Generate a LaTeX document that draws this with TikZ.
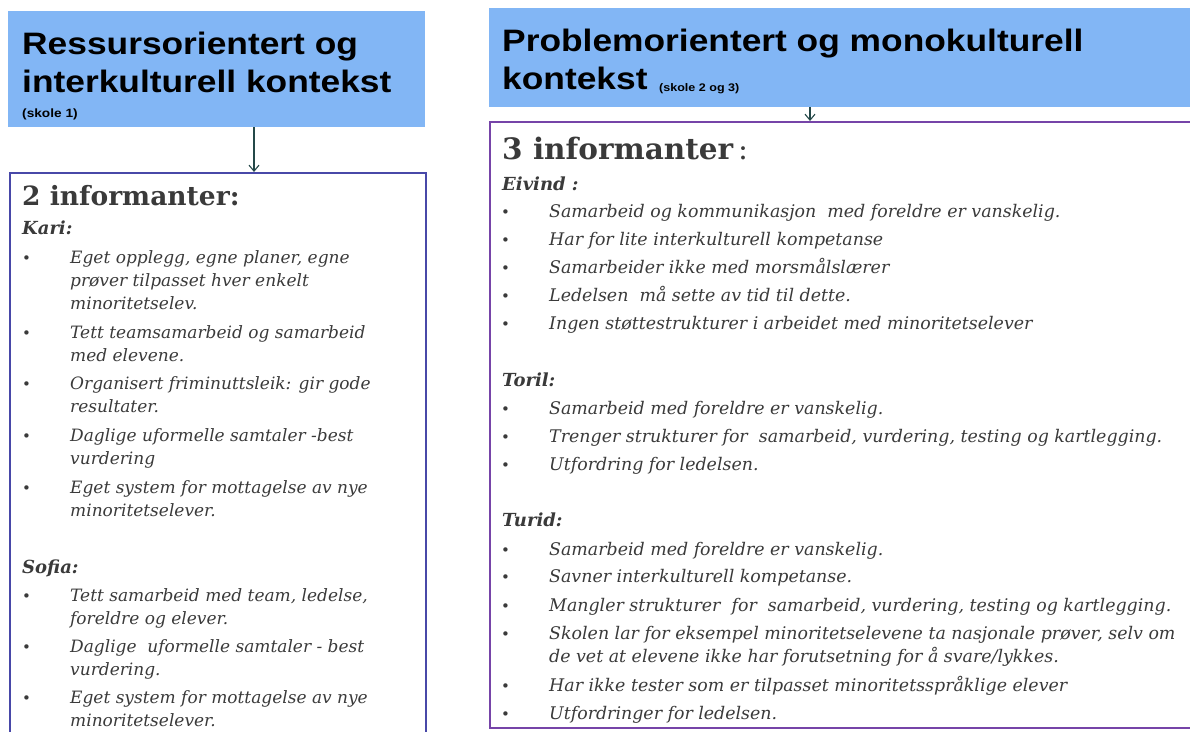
\documentclass[tikz,border=0pt]{standalone}
\usepackage{fontspec}
\setmainfont{DejaVu Serif}
\newfontfamily\headfont{Liberation Sans}[FakeStretch=1.14]
\usetikzlibrary{arrows.meta}
\definecolor{headblue}{RGB}{130, 182, 245}
\definecolor{leftframe}{RGB}{72, 72, 168}
\definecolor{rightframe}{RGB}{118, 68, 168}
\definecolor{arrowteal}{RGB}{36, 72, 72}
\definecolor{bodygray}{RGB}{58, 58, 58}
\tikzstyle{head_box}=[rectangle, fill=headblue, draw=none, anchor=north west, inner sep=0pt]
\tikzstyle{head_text}=[anchor=base west, inner sep=0pt, text=black,
    font=\headfont\bfseries\fontsize{31}{31}\selectfont]
\tikzstyle{school_text}=[anchor=base west, inner sep=0pt, text=black,
    font=\headfont\bfseries\fontsize{12}{12}\selectfont]
\tikzstyle{info_box}=[rectangle, anchor=north west, inner sep=0pt, line width=2pt, fill=white]
\tikzstyle{count_text}=[anchor=base west, inner sep=0pt, text=bodygray, font=\bfseries]
\tikzstyle{name_text}=[anchor=base west, inner sep=0pt, text=bodygray,
    font=\bfseries\itshape\fontsize{18}{18}\selectfont]
\tikzstyle{item_line}=[anchor=base west, inner sep=0pt, text=bodygray,
    font=\itshape\fontsize{17}{17}\selectfont]
\tikzstyle{item_dot}=[anchor=base west, inner sep=0pt, text=bodygray,
    font=\fontsize{15}{15}\selectfont]
\tikzstyle{down_arrow}=[draw=arrowteal, line width=1.1pt, -{Straight Barb[length=6pt, width=10pt]}]

\begin{document}
\begin{tikzpicture}[x=1pt, y=-1pt]
  \clip (0,0) rectangle (1190,731);
  \fill[white] (0,0) rectangle (1190,731);

  % Left side: school 1
  \node[head_box, minimum width=417pt, minimum height=116pt] (lhead) at (8,11) {};
  \node[head_text] (ltitle1) at (22,54) {Ressursorientert og};
  \node[head_text] (ltitle2) at (22,92) {interkulturell kontekst};
  \node[school_text] (lschool) at (22,117) {(skole 1)};

  \node[info_box, draw=leftframe, minimum width=416pt, minimum height=580pt] (lbox) at (9,172) {};
  \coordinate (larr) at (254,0);
  \draw[down_arrow] (lhead.south -| larr) -- (lbox.north -| larr);

  \node[count_text, font=\bfseries\fontsize{26.5}{26.5}\selectfont] (lcount) at (22,205) {2 informanter:};
  \node[name_text] (kari) at (22,234) {Kari:};
  \node[name_text] (sofia) at (22,573) {Sofia:};

  % Item lines, left box
  \foreach \y/\txt in {263/{Eget opplegg, egne planer, egne}, 286/{prøver tilpasset hver enkelt},
      309/{minoritetselev.}, 338/{Tett teamsamarbeid og samarbeid}, 361/{med elevene.},
      389/{Organisert friminuttsleik: gir gode}, 412/{resultater.},
      441/{Daglige uformelle samtaler -best}, 464/{vurdering},
      493/{Eget system for mottagelse av nye}, 516/{minoritetselever.},
      601/{Tett samarbeid med team, ledelse,}, 624/{foreldre og elever.},
      652/{Daglige\ \ uformelle samtaler - best}, 675/{vurdering.},
      703/{Eget system for mottagelse av nye}, 726/{minoritetselever.}} {
      \node[item_line] (lt\y) at (70,\y) {\txt};
  }
  \foreach \y in {263,338,389,441,493,601,652,703} {
      \node[item_dot] (lb\y) at (22,\y) {•};
  }

  % Right side: school 2 and 3
  \node[head_box, minimum width=710pt, minimum height=99pt] (rhead) at (489,8) {};
  \node[head_text] (rtitle1) at (502,51) {Problemorientert og monokulturell};
  \node[head_text] (rtitle2) at (502,89) {kontekst};
  \node[school_text, font=\headfont\bfseries\fontsize{11}{11}\selectfont] (rschool) at (659,91) {(skole 2 og 3)};

  \node[info_box, draw=rightframe, minimum width=710pt, minimum height=606pt] (rbox) at (489,121) {};
  \coordinate (rarr) at (810,0);
  \draw[down_arrow] (rhead.south -| rarr) -- (rbox.north -| rarr);

  \node[count_text, font=\bfseries\fontsize{29.5}{29.5}\selectfont] (rcount) at (502,159)
      {3 informanter\mdseries\,:};
  \node[name_text] (eivind) at (502,190) {Eivind :};
  \node[name_text] (toril) at (502,386) {Toril:};
  \node[name_text] (turid) at (502,526) {Turid:};

  % Item lines, right box
  \foreach \y/\txt in {217/{Samarbeid og kommunikasjon\ \ med foreldre er vanskelig.},
      245/{Har for lite interkulturell kompetanse}, 273/{Samarbeider ikke med morsmålslærer},
      301/{Ledelsen\ \ må sette av tid til dette.},
      329/{Ingen støttestrukturer i arbeidet med minoritetselever},
      414/{Samarbeid med foreldre er vanskelig.},
      442/{Trenger strukturer for\ \ samarbeid, vurdering, testing og kartlegging.},
      470/{Utfordring for ledelsen.},
      555/{Samarbeid med foreldre er vanskelig.}, 582/{Savner interkulturell kompetanse.},
      611/{Mangler strukturer\ \ for\ \ samarbeid, vurdering, testing og kartlegging.},
      639/{Skolen lar for eksempel minoritetselevene ta nasjonale prøver, selv om},
      662/{de vet at elevene ikke har forutsetning for å svare/lykkes.},
      691/{Har ikke tester som er tilpasset minoritetsspråklige elever},
      719/{Utfordringer for ledelsen.}} {
      \node[item_line, font=\itshape\fontsize{17.4}{17.4}\selectfont] (rt\y) at (549,\y) {\txt};
  }
  \foreach \y in {217,245,273,301,329,414,442,470,555,582,611,639,691,719} {
      \node[item_dot] (rb\y) at (501,\y) {•};
  }

\end{tikzpicture}
\end{document}
